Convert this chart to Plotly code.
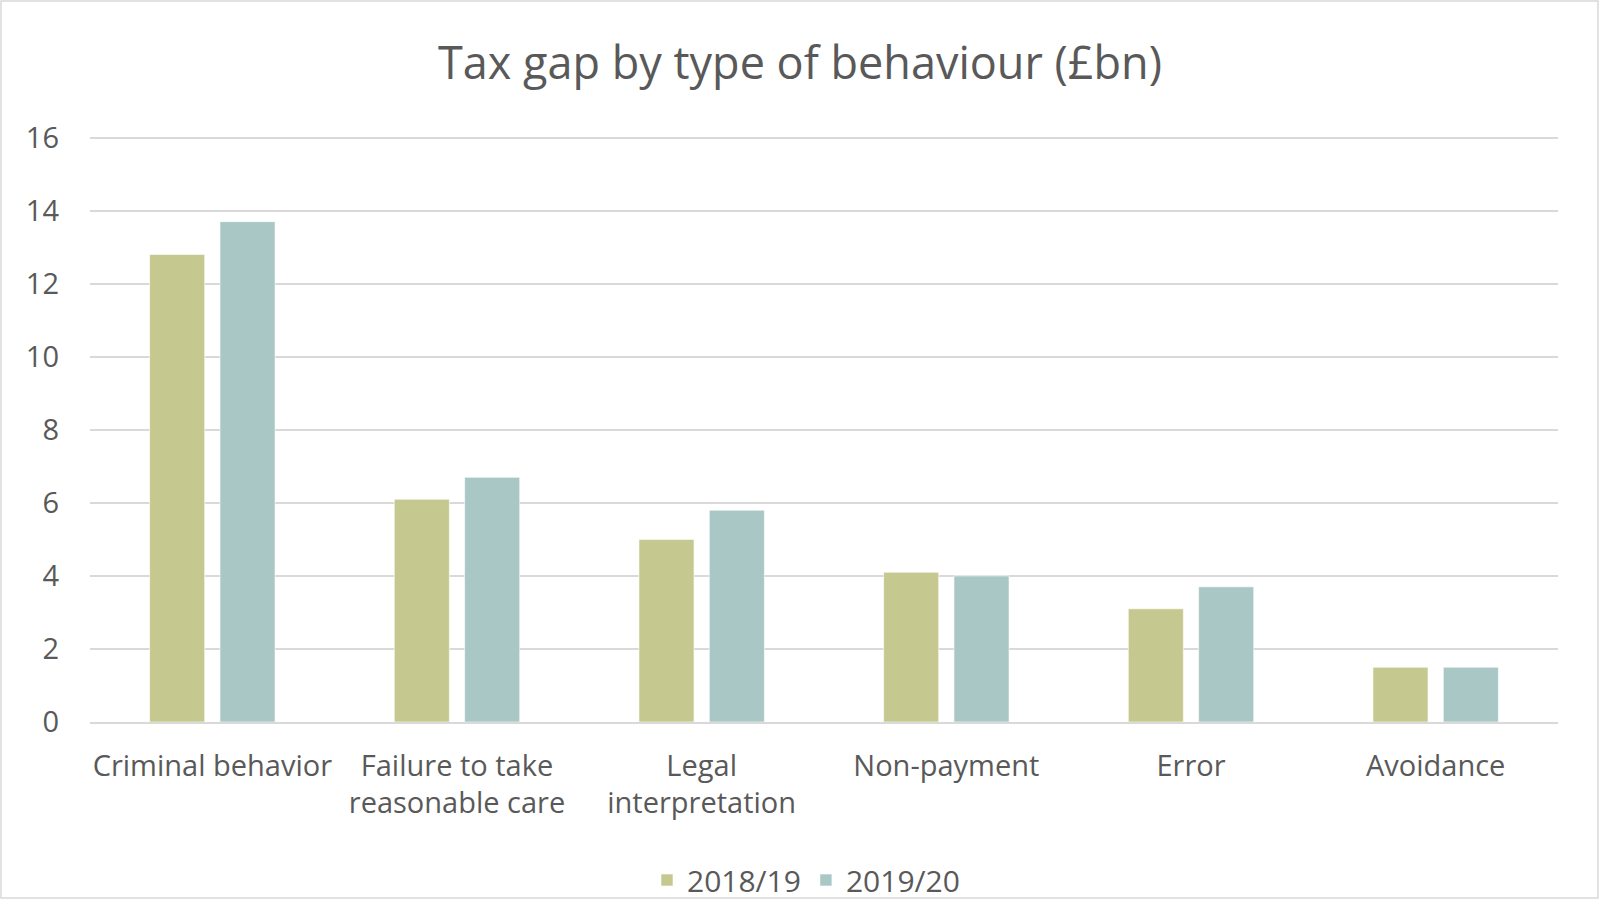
import plotly.graph_objects as go

categories = ["Criminal behavior", "Failure to take<br>reasonable care", "Legal<br>interpretation",
              "Non-payment", "Error", "Avoidance"]
series_names = ["2018/19", "2019/20"]
values_2018 = [12.8, 6.1, 5.0, 4.1, 3.1, 1.5]
values_2019 = [13.7, 6.7, 5.8, 4.0, 3.7, 1.5]
y_ticks = [0, 2, 4, 6, 8, 10, 12, 14, 16]

colors = ["#C5C98F", "#A8C7C5"]
text_color = "#595959"
font_family = "'Open Sans', sans-serif"

fig = go.Figure()
for name, vals, col in zip(series_names, [values_2018, values_2019], colors):
    fig.add_trace(go.Bar(
        x=categories, y=vals, name=name,
        marker=dict(color=col, line=dict(color="rgba(255,255,255,0.6)", width=1)),
    ))

W, H = 1600, 900
L, R, T, B = 90, 42, 134, 178
pw, ph = W - L - R, H - T - B

fig.update_layout(
    width=W, height=H,
    margin=dict(l=L, r=R, t=T, b=B, autoexpand=False),
    paper_bgcolor="white", plot_bgcolor="white",
    barmode="group", bargap=0.425, bargroupgap=0.217,
    font=dict(family=font_family, color=text_color, size=29),
    title=dict(text="Tax gap by type of behaviour (£bn)", x=0.5, xanchor="center",
               y=1 - 63 / H, yanchor="middle", font=dict(size=45, color=text_color)),
    showlegend=True,
    legend=dict(orientation="h", x=(806 - L) / pw, xanchor="center",
                y=-(880 - (H - B)) / ph, yanchor="middle",
                bgcolor="rgba(0,0,0,0)",
                font=dict(size=30, color=text_color), traceorder="normal"),
    xaxis=dict(showline=True, linecolor="#D9D9D9", linewidth=1.5, ticks="",
               tickfont=dict(size=29, color=text_color), showgrid=False,
               ticklabelstandoff=17),
    yaxis=dict(range=[0, 16.1], tickvals=y_ticks, showgrid=True, gridcolor="#D9D9D9",
               gridwidth=1.5, zeroline=False, showline=False, ticks="",
               tickfont=dict(size=29, color=text_color), ticklabelstandoff=30),
    shapes=[dict(type="rect", xref="paper", yref="paper",
                 x0=(1 - L) / pw, x1=(W - 2 - L) / pw,
                 y0=(H - B - (H - 2)) / ph, y1=(H - B - 1) / ph,
                 line=dict(color="#D9D9D9", width=1.5), fillcolor="rgba(0,0,0,0)", layer="below")],
)

fig.write_html("out.html", config={"displayModeBar": False},
               post_script="document.body.style.margin='0';document.body.style.overflow='hidden';")
